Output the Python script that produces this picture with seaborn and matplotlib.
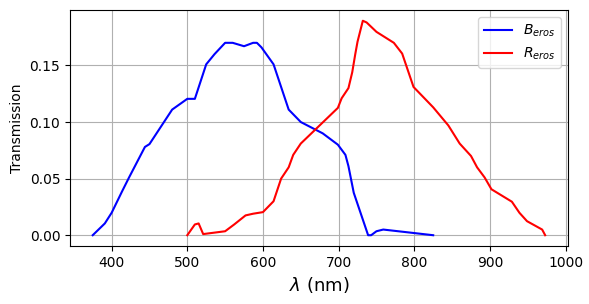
import numpy as np
import pandas as pd
import seaborn as sns
import matplotlib.pyplot as plt

# B_eros filter transmission
b_wave = [375, 391, 400, 414, 423, 444, 450, 480, 500, 510, 525, 536, 550, 560,
          575, 587, 592, 598, 614, 634, 650, 679, 699, 709, 713, 720, 739, 743,
          750, 759, 825]
b_trans = [0.0, 0.0104, 0.0198, 0.039, 0.051, 0.078, 0.0805, 0.111, 0.1205, 0.1205,
           0.151, 0.160, 0.170, 0.170, 0.167, 0.170, 0.170, 0.166, 0.151, 0.111,
           0.100, 0.090, 0.080, 0.071, 0.061, 0.0375, 0.0, 0.0, 0.0035, 0.005, 0.0]

# R_eros filter transmission
r_wave = [500, 510, 515, 521, 550, 562, 577, 587, 600, 614, 624, 634, 640, 650,
          699, 704, 713, 718, 722, 725, 732, 737, 750, 773, 784, 799, 825, 845,
          860, 875, 883, 893, 902, 929, 939, 949, 969, 973]
r_trans = [0.0, 0.0095, 0.0104, 0.001, 0.0035, 0.0095, 0.0175, 0.019, 0.0204, 0.030,
           0.050, 0.060, 0.071, 0.081, 0.1125, 0.121, 0.130, 0.144, 0.160, 0.171,
           0.1895, 0.1880, 0.1797, 0.170, 0.1605, 0.131, 0.113, 0.097, 0.081, 0.070,
           0.060, 0.051, 0.0406, 0.0296, 0.0198, 0.0124, 0.005, 0.0]

df_b = pd.DataFrame({"wave": b_wave, "trans": b_trans})
df_r = pd.DataFrame({"wave": r_wave, "trans": r_trans})

fig, ax = plt.subplots(figsize=(5.89, 3.04), dpi=100)
sns.lineplot(data=df_b, x="wave", y="trans", color="blue", sort=False,
             estimator=None, label=r"$B_{eros}$", ax=ax)
sns.lineplot(data=df_r, x="wave", y="trans", color="red", sort=False,
             estimator=None, label=r"$R_{eros}$", ax=ax)

ax.grid(True)
ax.set_xlabel(r"$\lambda$ (nm)", fontsize=13)
ax.set_ylabel("Transmission")
ax.legend(loc="upper right")
fig.subplots_adjust(left=0.119, right=0.964, top=0.967, bottom=0.191)
plt.savefig("out.png", dpi=100)
